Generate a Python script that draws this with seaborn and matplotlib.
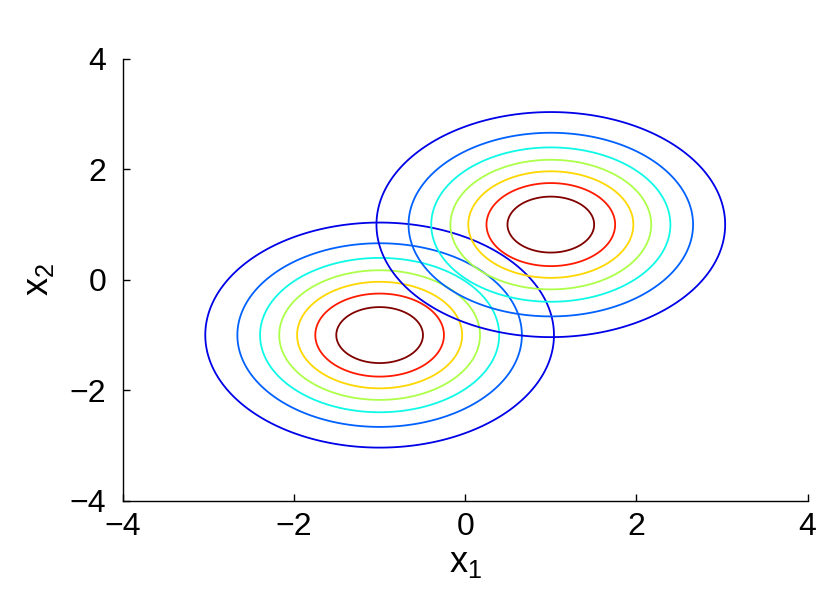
# -*- coding: utf-8 -*-

# import libraries
import numpy             as np
import seaborn           as sns
import matplotlib
import matplotlib.pyplot as plt
matplotlib.use("Agg")

# data
centers_x = [-1.0, 1.0]          # means of the two gaussians (x1)
centers_y = [-1.0, 1.0]          # means of the two gaussians (x2)
sigma     = 1.0                  # isotropic std
levels    = [0.02, 0.04, 0.06, 0.08, 0.10, 0.12, 0.14]
ticks     = [-4, -2, 0, 2, 4]

sns.set_style("ticks")
plt.rcParams['font.family'] = ['Liberation Sans', 'DejaVu Sans']
plt.rcParams['mathtext.fontset'] = 'custom'
plt.rcParams['mathtext.rm'] = 'Liberation Sans'
plt.rcParams['mathtext.it'] = 'Liberation Sans'
plt.rcParams['text.color'] = 'black'
plt.rcParams['axes.labelcolor'] = 'black'

# jet-like colours, one per contour level (outer -> inner)
jet = plt.get_cmap("jet")
level_colors = [jet(p) for p in [0.09, 0.22, 0.37, 0.56, 0.68, 0.88, 1.0]]

fig = plt.figure(figsize=(8.3, 6.13), dpi=100)
ax = fig.add_axes([0.148, 0.183, 0.825, 0.721])

# evaluation grid for the densities
gx = np.linspace(-4, 4, 401)
gy = np.linspace(-4, 4, 401)
X, Y = np.meshgrid(gx, gy)

for mx, my in zip(centers_x, centers_y):
    Z = np.exp(-((X - mx) ** 2 + (Y - my) ** 2) / (2 * sigma ** 2)) / (2 * np.pi * sigma ** 2)
    ax.contour(X, Y, Z, levels=levels, colors=level_colors, linewidths=1.3)

ax.set_xlim(-4, 4)
ax.set_ylim(-4, 4)
ax.set_xticks(ticks)
ax.set_yticks(ticks)
ax.set_xticklabels([str(t).replace('-', '\u2212') for t in ticks])
ax.set_yticklabels([str(t).replace('-', '\u2212') for t in ticks])
ax.tick_params(direction='in', length=5, width=1, labelsize=23, colors='black')
ax.tick_params(axis='x', pad=8)
ax.tick_params(axis='y', pad=12)
sns.despine(ax=ax)
for s in ['left', 'bottom']:
    ax.spines[s].set_linewidth(1.0)
    ax.spines[s].set_color('black')

ax.set_xlabel(r'$\mathregular{x_1}$', fontsize=26, labelpad=2)
ax.set_ylabel(r'$\mathregular{x_2}$', fontsize=26, labelpad=10)

fig.savefig("out.png", dpi=100)
